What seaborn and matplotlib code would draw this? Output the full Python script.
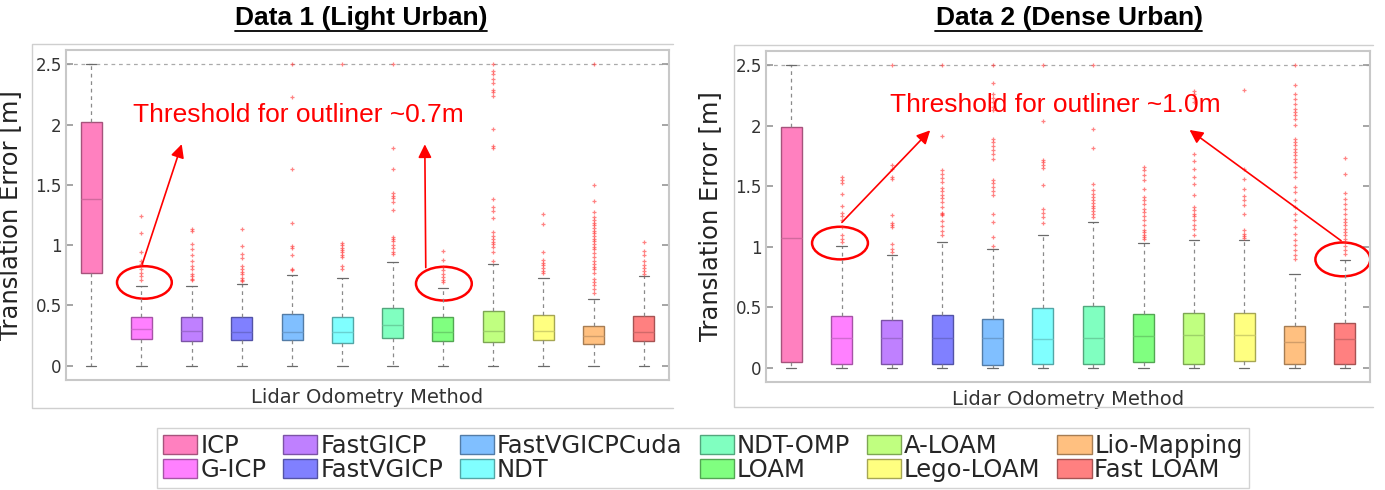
import numpy as np
import pandas as pd
import matplotlib
matplotlib.use("Agg")
import matplotlib.pyplot as plt
import seaborn as sns
from matplotlib.patches import Ellipse, Patch
from matplotlib.lines import Line2D
from matplotlib.colors import to_rgb

# ---------------- data ----------------
methods = ['ICP', 'G-ICP', 'FastGICP', 'FastVGICP', 'FastVGICPCuda', 'NDT',
           'NDT-OMP', 'LOAM', 'A-LOAM', 'Lego-LOAM', 'Lio-Mapping', 'Fast LOAM']
colors = ['#FF80BF', '#FF80FF', '#BF80FF', '#8080FF', '#80BFFF', '#80FFFF',
          '#80FFC0', '#80FF80', '#C0FF80', '#FFFF80', '#FFC080', '#FF8080']

titles = ['Data 1 (Light Urban)', 'Data 2 (Dense Urban)']

# Data 1 (Light Urban) box statistics
lo_1 = [0, 0, 0, 0, 0, 0, 0, 0, 0, 0, 0, 0]
q1_1 = [0.77, 0.224, 0.207, 0.21, 0.21, 0.19, 0.227, 0.205, 0.194, 0.213, 0.18, 0.20]
med_1 = [1.38, 0.30, 0.29, 0.28, 0.28, 0.28, 0.338, 0.277, 0.288, 0.288, 0.246, 0.277]
q3_1 = [2.02, 0.40, 0.40, 0.40, 0.43, 0.40, 0.48, 0.40, 0.454, 0.418, 0.33, 0.415]
hi_1 = [2.50, 0.664, 0.664, 0.675, 0.75, 0.73, 0.857, 0.647, 0.84, 0.73, 0.553, 0.744]
out_1 = [
    [],
    [1.24, 1.10, 0.94, 0.87, 0.84, 0.80, 0.77, 0.74, 0.71],
    [1.13, 1.12, 1.01, 0.97, 0.92, 0.87, 0.83, 0.80, 0.76, 0.74, 0.72, 0.71],
    [1.13, 0.99, 0.93, 0.89, 0.83, 0.80, 0.78, 0.76, 0.73, 0.71, 0.70],
    [2.50, 2.23, 1.63, 1.18, 0.99, 0.98, 0.92, 0.80, 0.79],
    [2.50, 1.02, 1.00, 0.98, 0.96, 0.94, 0.92, 0.90, 0.83, 0.80],
    [2.50, 1.81, 1.63, 1.435, 1.41, 1.39, 1.36, 1.29, 1.07, 1.05, 1.03, 1.00, 0.976, 0.94, 0.93],
    [0.955, 0.877, 0.82, 0.79, 0.76, 0.733, 0.71, 0.694],
    [2.50, 2.444, 2.417, 2.378, 2.35, 2.284, 2.268, 2.24, 1.963, 1.822, 1.81, 1.385, 1.319,
     1.28, 1.222, 1.106, 1.073, 1.05, 1.029, 1.007, 0.985, 0.94, 0.871],
    [1.256, 1.173, 0.94, 0.877, 0.854, 0.833, 0.81, 0.788, 0.766],
    [2.50, 1.499, 1.369, 1.272, 1.236, 1.209, 1.186, 1.164, 1.142, 1.12, 1.098, 1.076, 1.053,
     1.032, 1.009, 0.987, 0.965, 0.932, 0.899, 0.871, 0.844, 0.821, 0.80, 0.766, 0.722,
     0.694, 0.667, 0.634, 0.606],
    [1.029, 0.951, 0.918, 0.868, 0.835, 0.813, 0.786, 0.758],
]

# Data 2 (Dense Urban) box statistics
lo_2 = [0, 0, 0, 0, 0, 0, 0, 0, 0, 0, 0, 0]
q1_2 = [0.046, 0.033, 0.027, 0.033, 0.019, 0.033, 0.033, 0.046, 0.033, 0.055, 0.027, 0.033]
med_2 = [1.072, 0.248, 0.248, 0.248, 0.248, 0.24, 0.245, 0.259, 0.273, 0.267, 0.207, 0.24]
q3_2 = [1.995, 0.424, 0.391, 0.438, 0.405, 0.496, 0.51, 0.447, 0.452, 0.452, 0.342, 0.369]
hi_2 = [2.50, 1.003, 0.934, 1.042, 0.978, 1.10, 1.204, 1.03, 1.053, 1.058, 0.772, 0.893]
out_2 = [
    [],
    [1.574, 1.549, 1.53, 1.436, 1.336, 1.282, 1.254, 1.218, 1.163, 1.094, 1.061, 1.039],
    [2.50, 1.673, 1.645, 1.576, 1.56, 1.26, 1.196, 1.18, 1.16, 1.02, 0.98, 0.96],
    [2.50, 1.915, 1.632, 1.604, 1.571, 1.532, 1.49, 1.46, 1.43, 1.40, 1.37, 1.33, 1.28,
     1.27, 1.26, 1.21, 1.17, 1.13, 1.10],
    [2.50, 2.359, 2.266, 2.233, 2.197, 2.155, 2.128, 1.888, 1.866, 1.83, 1.797, 1.769,
     1.728, 1.555, 1.527, 1.494, 1.46, 1.425, 1.268, 1.204, 1.08, 1.006],
    [2.50, 2.039, 1.72, 1.698, 1.676, 1.654, 1.507, 1.309, 1.279, 1.245, 1.199],
    [2.50, 1.976, 1.816, 1.516, 1.466, 1.439, 1.411, 1.383, 1.361, 1.34, 1.317, 1.295,
     1.273, 1.245],
    [1.659, 1.632, 1.59, 1.549, 1.474, 1.411, 1.383, 1.35, 1.315, 1.284, 1.251, 1.218,
     1.177, 1.141, 1.121, 1.10, 1.08, 1.063],
    [2.293, 2.266, 2.233, 2.197, 1.769, 1.708, 1.645, 1.576, 1.522, 1.425, 1.328, 1.301,
     1.273, 1.251, 1.218, 1.177, 1.144, 1.094],
    [2.299, 1.645, 1.563, 1.48, 1.419, 1.383, 1.342, 1.273, 1.135, 1.108, 1.086, 1.069],
    [2.50, 2.34, 2.266, 2.224, 2.183, 2.142, 2.114, 2.087, 2.059, 2.004, 1.894, 1.866,
     1.838, 1.811, 1.783, 1.756, 1.728, 1.70, 1.659, 1.618, 1.576, 1.494, 1.452, 1.39,
     1.328, 1.273, 1.218, 1.163, 1.108, 1.053, 1.012, 0.97, 0.929, 0.901],
    [1.736, 1.604, 1.444, 1.397, 1.356, 1.315, 1.273, 1.232, 1.204, 1.177, 1.149, 1.121,
     1.094, 1.067, 1.039, 1.003, 0.97, 0.943],
]

ann_text = ['Threshold for outliner ~0.7m', 'Threshold for outliner ~1.0m']

# ---------------- style ----------------
sns.set_theme(style='white')
plt.rcParams['font.family'] = ['DejaVu Sans']

W, H = 1385, 490
fig = plt.figure(figsize=(W / 100, H / 100), dpi=100)


def fx(px):
    return px / W


def fy(py):
    return 1 - py / H


def darker(c, f):
    r, g, b = to_rgb(c)
    return (r * f, g * f, b * f)


pal = dict(zip(methods, colors))

axes_px = [(66, 50, 669, 380), (766, 51, 1370, 382)]
panels = [
    (lo_1, q1_1, med_1, q3_1, hi_1, out_1),
    (lo_2, q1_2, med_2, q3_2, hi_2, out_2),
]
axes = []
for (x0, y0, x1, y1), (lo, q1, med, q3, hi, outs) in zip(axes_px, panels):
    ax = fig.add_axes([fx(x0), fy(y1), fx(x1 - x0), (y1 - y0) / H])
    axes.append(ax)
    rows = []
    for i, m in enumerate(methods):
        for v in (lo[i], q1[i], med[i], q3[i], hi[i]):
            rows.append((m, v))
    df = pd.DataFrame(rows, columns=['method', 'value'])
    sns.boxplot(data=df, x='method', y='value', hue='method', order=methods,
                hue_order=methods, palette=pal, whis=(0, 100), width=0.42,
                saturation=1, fliersize=0, linewidth=1.0, legend=False, ax=ax,
                whiskerprops=dict(linestyle=(0, (3, 3)), color='#8a8a8a', linewidth=0.9),
                capprops=dict(color='#6a6a6a', linewidth=0.9))
    for cont in ax.containers:
        if not hasattr(cont, 'medians'):
            continue
        for bx, md in zip(cont.boxes, cont.medians):
            idx = int(round(np.mean(md.get_xdata())))
            c = colors[idx]
            bx.set_edgecolor(darker(c, 0.65))
            md.set_color(darker(c, 0.82))
            md.set_linewidth(1.0)
    odf = pd.DataFrame([(m, v) for m, vs in zip(methods, outs) for v in vs],
                       columns=['method', 'value'])
    sns.stripplot(data=odf, x='method', y='value', order=methods, jitter=False,
                  color='#ff3030', edgecolor='#ff3030', marker='+', size=3.2,
                  linewidth=0.9, alpha=0.6, ax=ax)
    ax.axhline(2.5, ls=(0, (3, 3)), color='#aaaaaa', lw=0.9, zorder=0)
    ax.set_xlim(-0.5, 11.5)
    ax.set_ylim(-0.12, 2.62)
    ax.set_yticks([0, 0.5, 1, 1.5, 2, 2.5])
    ax.set_yticklabels(['0', '0.5', '1', '1.5', '2', '2.5'])
    ax.set_xticks([])
    ax.tick_params(axis='y', direction='in', left=True, right=True, length=5,
                   color='#9a9a9a', labelsize=12, labelcolor='#333333', pad=3)
    for s in ax.spines.values():
        s.set_color('#c8c8c8')
        s.set_linewidth(1.5)
    ax.set_xlabel('Lidar Odometry Method', fontsize=14, color='#333333', labelpad=6)
    ax.set_ylabel('Translation Error [m]', fontsize=17.5, color='#222222')
    ax.yaxis.set_label_coords(-0.073, 0.5)

# annotations panel 1
ax = axes[0]
ax.text(0.833, 2.021, ann_text[0], color='red', fontsize=19,
        family=['Liberation Sans', 'DejaVu Sans'], va='baseline', ha='left')
ap = dict(arrowstyle='-|>', color='red', lw=1.2, mutation_scale=20)
ax.annotate('', xy=(1.82, 1.86), xytext=(1.0, 0.82), arrowprops=ap)
ax.annotate('', xy=(6.64, 1.86), xytext=(6.66, 0.79), arrowprops=ap)
ax.add_patch(Ellipse((1.06, 0.69), 1.09, 0.27, fill=False, edgecolor='red', lw=1.8))
ax.add_patch(Ellipse((7.02, 0.68), 1.11, 0.28, fill=False, edgecolor='red', lw=1.8))

# annotations panel 2
ax = axes[1]
ax.text(1.965, 2.119, ann_text[1], color='red', fontsize=19,
        family=['Liberation Sans', 'DejaVu Sans'], va='baseline', ha='left')
ax.annotate('', xy=(2.80, 1.98), xytext=(0.97, 1.185), arrowprops=ap)
ax.annotate('', xy=(7.87, 1.98), xytext=(10.97, 1.036), arrowprops=ap)
ax.add_patch(Ellipse((0.97, 1.03), 1.11, 0.27, fill=False, edgecolor='red', lw=1.8))
ax.add_patch(Ellipse((10.96, 0.895), 1.09, 0.28, fill=False, edgecolor='red', lw=1.8))

# outer panel frames (top, left, bottom)
for (l, t, r, b) in [(32, 44, 673, 408), (734, 45, 1373, 407)]:
    fig.add_artist(Line2D([fx(r), fx(l), fx(l), fx(r)], [fy(t), fy(t), fy(b), fy(b)],
                          color='#cfcfcf', lw=1.0, transform=fig.transFigure))

# titles (bold, underlined)
title_objs = []
for cx, t in zip([361, 1069], titles):
    tt = fig.text(fx(cx), fy(18), t, ha='center', va='center', fontsize=19,
                  fontweight='bold', family=['Liberation Sans Narrow', 'Liberation Sans', 'DejaVu Sans'],
                  color='black')
    title_objs.append(tt)

# legend
handles = [Patch(facecolor=c, edgecolor=darker(c, 0.65), linewidth=1.0) for c in colors]
fig.legend(handles, methods, ncol=6, loc='upper center',
           bbox_to_anchor=(fx(703), fy(428)), frameon=True, fancybox=False,
           edgecolor='#c8c8c8', fontsize=17.5, handlelength=1.4, handleheight=0.85,
           handletextpad=0.12, columnspacing=0.7, borderpad=0.25, labelspacing=0.0,
           borderaxespad=0)

fig.canvas.draw()
r = fig.canvas.get_renderer()
for tt in title_objs:
    bb = tt.get_window_extent(r).transformed(fig.transFigure.inverted())
    fig.add_artist(Line2D([bb.x0, bb.x1], [bb.y0 - 0.002, bb.y0 - 0.002], color='black',
                          lw=1.3, transform=fig.transFigure))

fig.savefig('out.png', dpi=100)
